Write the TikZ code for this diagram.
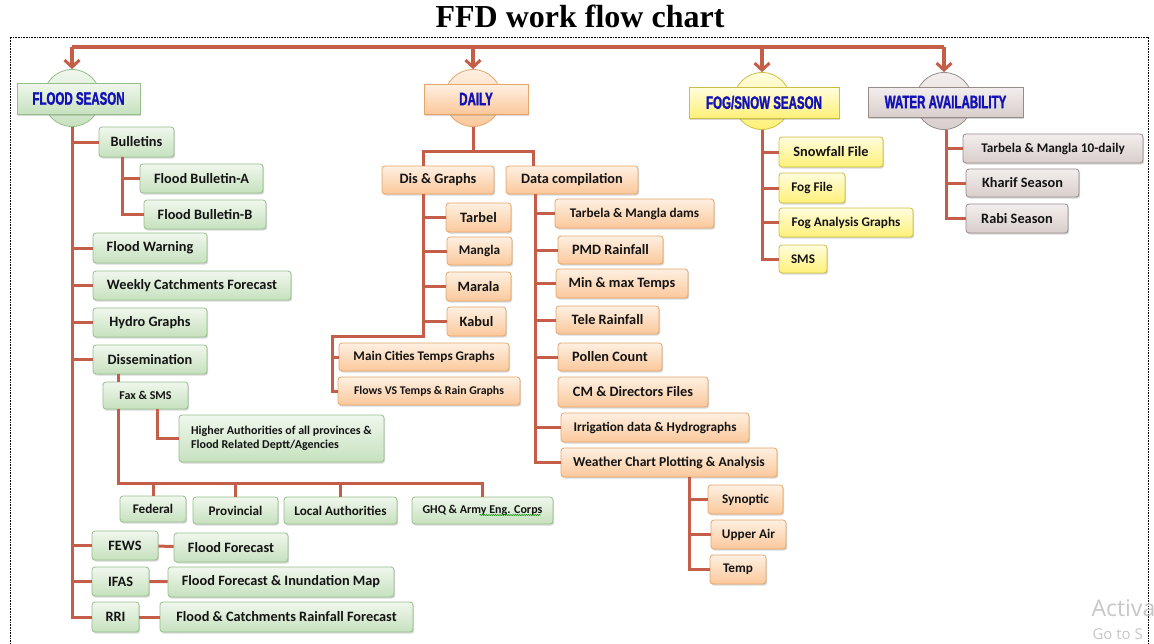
\documentclass[tikz,border=0pt]{standalone}
\usepackage{fontspec}
\setmainfont{Liberation Serif}
\newfontfamily\boxfont{Carlito}
\newfontfamily\hdrfont[FakeStretch=0.64,BoldFeatures={FakeStretch=0.64,FakeBold=1.5}]{Liberation Sans}
\newfontfamily\winfont{Open Sans}
\usetikzlibrary{shadows,arrows.meta,decorations.pathmorphing}
\definecolor{lc}{RGB}{197,94,72}
\definecolor{gtop}{RGB}{240,247,237}
\definecolor{gbot}{RGB}{198,225,190}
\definecolor{gbrd}{RGB}{150,190,140}
\definecolor{otop}{RGB}{254,240,226}
\definecolor{obot}{RGB}{251,200,155}
\definecolor{obrd}{RGB}{230,165,105}
\definecolor{ytop}{RGB}{255,253,222}
\definecolor{ybot}{RGB}{255,240,120}
\definecolor{ybrd}{RGB}{205,190,70}
\definecolor{wtop}{RGB}{243,238,237}
\definecolor{wbot}{RGB}{216,206,204}
\definecolor{wbrd}{RGB}{150,140,138}
\definecolor{hblue}{RGB}{18,18,180}
\newcommand{\setfs}[1]{\fontsize{#1}{#1}\selectfont}
\tikzset{
  box/.style={draw, rounded corners=3pt, line width=0.8pt, inner sep=0pt, align=center,
    text=black!92, font=\boxfont\bfseries\setfs{14.3},
    drop shadow={shadow xshift=1.2pt, shadow yshift=-1.6pt, opacity=0.3}},
  fz/.style={font=\boxfont\bfseries\setfs{#1}},
  gbox/.style={box, draw=gbrd, top color=gtop, bottom color=gbot},
  obox/.style={box, draw=obrd, top color=otop, bottom color=obot},
  ybox/.style={box, draw=ybrd, top color=ytop, bottom color=ybot},
  wbox/.style={box, draw=wbrd, top color=wtop, bottom color=wbot},
  hcirc/.style={circle, minimum size=57, inner sep=0pt, line width=0.8pt},
  hdr/.style={draw, line width=1pt, inner sep=0pt, font=\hdrfont\bfseries\setfs{18}, text=hblue,
    drop shadow={shadow xshift=1.2pt, shadow yshift=-1.6pt, opacity=0.3}},
  conn/.style={draw=lc, line width=3pt},
  topconn/.style={draw=lc, line width=3.5pt},
  arr/.style={-{Straight Barb[length=7pt,width=15pt,line width=3pt]}},
}
\begin{document}
\begin{tikzpicture}[x=1pt,y=-1pt]
\useasboundingbox (0,0) rectangle (1154,643);
\fill[white] (0,0) rectangle (1154,643);

% title
\node[anchor=base, font=\bfseries\setfs{32}] (title) at (580,27) {FFD work flow chart};

% dotted frame
\draw[line width=0.6pt, dash pattern=on 0.8pt off 0.8pt] (10,650) -- (10,37) -- (1148,37) -- (1148,650);

% headers
\node[hcirc, draw=gbrd, top color=gtop, bottom color=gbot] (floodc) at (72,98) {};
\node[hdr, draw=gbrd, top color=gtop, bottom color=gbot, minimum width=123, minimum height=31] (flood) at (78.5,98.5) {FLOOD SEASON};
\node[hcirc, draw=obrd, top color=otop, bottom color=obot] (dailyc) at (473,98) {};
\node[hdr, draw=obrd, top color=otop, bottom color=obot, minimum width=104, minimum height=30] (daily) at (476,99) {DAILY};
\node[hcirc, draw=ybrd, top color=ytop, bottom color=ybot] (fogc) at (762,101) {};
\node[hdr, draw=ybrd, top color=ytop, bottom color=ybot, minimum width=150, minimum height=31] (fog) at (764,102.5) {FOG/SNOW SEASON};
\node[hcirc, draw=wbrd, top color=wtop, bottom color=wbot] (waterc) at (944,101) {};
\node[hdr, draw=wbrd, top color=wtop, bottom color=wbot, minimum width=155, minimum height=30] (water) at (945.5,102) {WATER AVAILABILITY};

% top bus and arrows
\coordinate (bus) at (0,47);
\draw[topconn] (floodc.north |- bus) -- (waterc.north |- bus);
\draw[topconn, arr] (floodc.north |- bus) -- (floodc.north);
\draw[topconn, arr] (dailyc.north |- bus) -- (dailyc.north);
\draw[topconn, arr] (fogc.north |- bus) -- (fogc.north);
\draw[topconn, arr] (waterc.north |- bus) -- (waterc.north);

% ---------- FLOOD SEASON ----------
\node[gbox, minimum width=75, minimum height=30] (bulletins) at (136.5,142) {Bulletins};
\node[gbox, minimum width=123, minimum height=29] (bA) at (201.5,178.5) {Flood Bulletin-A};
\node[gbox, minimum width=122, minimum height=29] (bB) at (205,214.5) {Flood Bulletin-B};
\node[gbox, minimum width=114, minimum height=30] (warning) at (150,248) {Flood Warning};
\node[gbox, minimum width=198, minimum height=29] (weekly) at (192,285.5) {Weekly Catchments Forecast};
\node[gbox, minimum width=114, minimum height=29] (hydro) at (150,322.5) {Hydro Graphs};
\node[gbox, minimum width=114, minimum height=29] (dissem) at (150,359.5) {Dissemination};
\node[gbox, fz=12, minimum width=85, minimum height=27] (fax) at (145.5,395.5) {Fax \& SMS};
\node[gbox, fz=12, align=left, minimum width=205, minimum height=47] (higher) at (281.5,438.5) {Higher Authorities of all provinces \&\\[2pt]Flood Related Deptt/Agencies};
\node[gbox, fz=13.2, minimum width=66, minimum height=26] (federal) at (153,509) {Federal};
\node[gbox, fz=13.2, minimum width=85, minimum height=27] (provincial) at (235.5,510.5) {Provincial};
\node[gbox, fz=13.2, minimum width=113, minimum height=27] (local) at (340.5,510.5) {Local Authorities};
\node[gbox, fz=12, minimum width=141, minimum height=27] (ghq) at (482.5,510.5) {GHQ \& Army Eng. Corps};
\node[gbox, minimum width=66, minimum height=29] (fews) at (125,545.5) {FEWS};
\node[gbox, minimum width=114, minimum height=29] (ff) at (231,547.5) {Flood Forecast};
\node[gbox, minimum width=57, minimum height=29] (ifas) at (120.5,581.5) {IFAS};
\node[gbox, minimum width=226, minimum height=30] (ffim) at (281,582) {Flood Forecast \& Inundation Map};
\node[gbox, minimum width=47, minimum height=30] (rri) at (115.5,617) {RRI};
\node[gbox, minimum width=253, minimum height=30] (fcrf) at (286.5,617) {Flood \& Catchments Rainfall Forecast};

\draw[green!55!black, line width=0.5pt, decorate, decoration={snake, amplitude=0.6pt, segment length=2.2pt}]
  ([xshift=-3pt,yshift=-4.5pt]ghq.center) -- ([xshift=58pt,yshift=-4.5pt]ghq.center);

% ---------- DAILY ----------
\node[obox, minimum width=112, minimum height=28] (disg) at (438,180) {Dis \& Graphs};
\node[obox, minimum width=132, minimum height=28] (datac) at (572,180) {Data compilation};
\node[obox, minimum width=65, minimum height=29] (tarbel) at (478.5,217.5) {Tarbel};
\node[obox, fz=13.2, minimum width=65, minimum height=28] (mangla) at (479.5,251) {Mangla};
\node[obox, minimum width=65, minimum height=29] (marala) at (478.5,286.5) {Marala};
\node[obox, minimum width=59, minimum height=29] (kabul) at (476.5,321.5) {Kabul};
\node[obox, fz=13.2, minimum width=170, minimum height=28] (maincity) at (424,357) {Main Cities Temps Graphs};
\node[obox, fz=11.8, minimum width=182, minimum height=28] (flows) at (429,391) {Flows VS Temps \& Rain Graphs};
\node[obox, fz=13.2, minimum width=159, minimum height=29] (tmd) at (634.5,213.5) {Tarbela \& Mangla dams};
\node[obox, minimum width=105, minimum height=28] (pmd) at (610.5,250) {PMD Rainfall};
\node[obox, minimum width=132, minimum height=29] (minmax) at (622,283.5) {Min \& max Temps};
\node[obox, minimum width=103, minimum height=28] (tele) at (607.5,320) {Tele Rainfall};
\node[obox, minimum width=104, minimum height=28] (pollen) at (610,357) {Pollen Count};
\node[obox, minimum width=150, minimum height=30] (cm) at (633,392) {CM \& Directors Files};
\node[obox, fz=13.2, minimum width=188, minimum height=29] (irrig) at (655,427.5) {Irrigation data \& Hydrographs};
\node[obox, fz=13.6, minimum width=216, minimum height=29] (weather) at (669,462.5) {Weather Chart Plotting \& Analysis};
\node[obox, fz=13.2, minimum width=75, minimum height=29] (synoptic) at (745.5,499.5) {Synoptic};
\node[obox, fz=13.2, minimum width=75, minimum height=29] (upper) at (748.5,534.5) {Upper Air};
\node[obox, fz=13.2, minimum width=56, minimum height=29] (temp) at (738,569.5) {Temp};

% ---------- FOG ----------
\node[ybox, minimum width=104, minimum height=30] (snow) at (831,152) {Snowfall File};
\node[ybox, fz=13.2, minimum width=66, minimum height=30] (fogfile) at (812,188) {Fog File};
\node[ybox, fz=13.2, minimum width=134, minimum height=29] (foga) at (846,222.5) {Fog Analysis Graphs};
\node[ybox, fz=13.2, minimum width=48, minimum height=28] (sms) at (803,259) {SMS};

% ---------- WATER ----------
\node[wbox, fz=13.2, minimum width=180, minimum height=29] (t10) at (1053,148.5) {Tarbela \& Mangla 10-daily};
\node[wbox, minimum width=113, minimum height=28] (kharif) at (1022.5,183) {Kharif Season};
\node[wbox, minimum width=102, minimum height=29] (rabi) at (1017,218.5) {Rabi Season};

% watermark
\node[anchor=west, text=black!22, font=\winfont\setfs{23}] (wm1) at (1088,608) {Activa};
\node[anchor=west, text=black!22, font=\winfont\setfs{15}] (wm2) at (1089,634) {Go to S};

% ---------- connectors ----------
% flood
\foreach \n in {bulletins,warning,weekly,hydro,dissem,fews,ifas,rri}
  \draw[conn] (floodc.south) |- (\n.west);
\coordinate (bulx) at ([xshift=24pt]bulletins.south west);
\draw[conn] (bulx) |- (bA.west);
\draw[conn] (bulx) |- (bB.west);
\coordinate (faxtop) at ([xshift=16pt]fax.north west);
\coordinate (faxbot) at ([xshift=16pt]fax.south west);
\draw[conn] (faxtop) -- (faxtop |- dissem.south);
\coordinate (faxr) at ([xshift=55pt]fax.south west);
\draw[conn] (faxr) |- (higher.west);
\coordinate (fbus) at (0,483);
\draw[conn] (faxbot) |- (ghq.north |- fbus) -- (ghq.north);
\foreach \n in {federal,provincial,local}
  \draw[conn] (\n.north |- fbus) -- (\n.north);
\draw[conn] (fews) -- (ff);
\draw[conn] (ifas) -- (ffim);
\draw[conn] (rri) -- (fcrf);

% daily
\coordinate (dbus) at (0,151);
\draw[conn] (dailyc.south) -- (dailyc.south |- dbus);
\coordinate (disx) at ([xshift=42pt]disg.south west);
\coordinate (datx) at ([xshift=30pt]datac.south west);
\draw[conn] ([xshift=42pt]disg.north west) |- (dailyc.south |- dbus) -| ([xshift=28pt]datac.north west);
\foreach \n in {tarbel,mangla,marala,kabul}
  \draw[conn] (disx) |- (\n.west);
\coordinate (dk) at (332,336);
\draw[conn] (disx) |- (dk) |- (flows.west);
\draw[conn] (dk) |- (maincity.west);
\foreach \n in {tmd,pmd,minmax,tele,pollen,irrig,weather}
  \draw[conn] (datx) |- (\n.west);
\coordinate (wx) at ([xshift=129pt]weather.south west);
\foreach \n in {synoptic,upper,temp}
  \draw[conn] (wx) |- (\n.west);

% fog
\foreach \n in {snow,fogfile,foga,sms}
  \draw[conn] (fogc.south) |- (\n.west);
% water
\foreach \n in {t10,kharif,rabi}
  \draw[conn] ([xshift=2pt]waterc.south) |- (\n.west);
\end{tikzpicture}
\end{document}
